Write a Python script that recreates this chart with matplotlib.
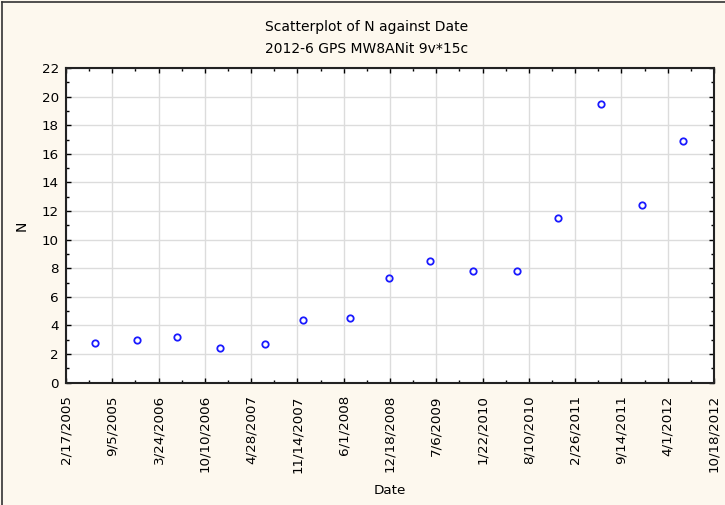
import datetime as dt
import matplotlib
matplotlib.use("Agg")
import matplotlib.pyplot as plt
import matplotlib.dates as mdates
from matplotlib.lines import Line2D

# Survey dates and N values
dates = ["2005-06-22", "2005-12-20", "2006-06-12", "2006-12-14", "2007-06-27",
         "2007-12-10", "2008-06-29", "2008-12-15", "2009-06-07", "2009-12-13",
         "2010-06-21", "2010-12-12", "2011-06-18", "2011-12-11", "2012-06-08"]
n_values = [2.8, 3.0, 3.2, 2.4, 2.7, 4.4, 4.5, 7.3, 8.5, 7.8, 7.8, 11.5, 19.5, 12.4, 16.9]

x_tick_labels = ["2/17/2005", "9/5/2005", "3/24/2006", "10/10/2006", "4/28/2007",
                 "11/14/2007", "6/1/2008", "12/18/2008", "7/6/2009", "1/22/2010",
                 "8/10/2010", "2/26/2011", "9/14/2011", "4/1/2012", "10/18/2012"]
y_ticks = [0, 2, 4, 6, 8, 10, 12, 14, 16, 18, 20, 22]

plt.rcParams["font.family"] = ["DejaVu Sans"]

W, H = 725, 505
fig = plt.figure(figsize=(W / 100, H / 100), dpi=100, facecolor="#fdf8ee")
ax = fig.add_axes([66 / W, (H - 382.7) / H, 648 / W, 314.7 / H])
ax.set_facecolor("white")

x = [mdates.date2num(dt.datetime.strptime(d, "%Y-%m-%d")) for d in dates]
xt = [mdates.date2num(dt.datetime.strptime(s, "%m/%d/%Y")) for s in x_tick_labels]

ax.plot(x, n_values, linestyle="none", marker="o", markersize=4.6,
        markerfacecolor="none", markeredgecolor="#1a1aff", markeredgewidth=1.3,
        zorder=3)

ax.set_xlim(xt[0], xt[-1])
ax.set_ylim(0, 22)
ax.set_xticks(xt)
ax.set_xticklabels(x_tick_labels, rotation=90, fontsize=9.7)
ax.set_xticks([(a + b) / 2 for a, b in zip(xt[:-1], xt[1:])], minor=True)
ax.set_yticks(y_ticks)
ax.set_yticklabels([str(v) for v in y_ticks], fontsize=9.7)
ax.set_yticks(range(1, 22, 2), minor=True)

ax.grid(True, which="major", color="#dcdcdc", linewidth=1.0)
ax.set_axisbelow(True)
ax.tick_params(which="both", direction="in", top=True, right=True,
               color="black", width=1.0)
ax.tick_params(which="major", length=3.5)
ax.tick_params(which="minor", length=2.5)
ax.tick_params(axis="x", which="major", pad=9)
ax.tick_params(axis="y", which="major", pad=5)
for s in ax.spines.values():
    s.set_linewidth(1.5)
    s.set_color("#222222")

ax.set_xlabel("Date", fontsize=9.7)
ax.xaxis.set_label_coords(0.5, (382.7 - 490) / 314.7)
ax.xaxis.label.set_va("center")
ax.set_ylabel("N", fontsize=10)
ax.yaxis.set_label_coords((22 - 66) / 648, 0.5)
ax.yaxis.label.set_va("center")

fig.text(367 / W, 1 - 27 / H, "Scatterplot of N against Date", ha="center",
         va="center", fontsize=10)
fig.text(367 / W, 1 - 49 / H, "2012-6 GPS MW8ANit 9v*15c", ha="center",
         va="center", fontsize=10)

# outer frame on the left and top edges
fig.add_artist(Line2D([0.003, 0.003], [0, 0.996], color="#333333", lw=1.2,
                      transform=fig.transFigure))
fig.add_artist(Line2D([0.003, 1], [0.996, 0.996], color="#333333", lw=1.2,
                      transform=fig.transFigure))

fig.savefig("out.png", dpi=100, facecolor=fig.get_facecolor())
